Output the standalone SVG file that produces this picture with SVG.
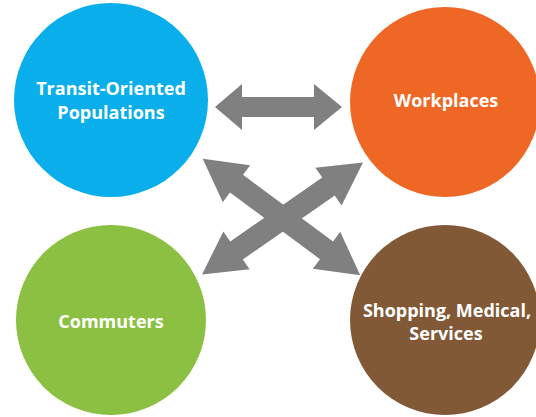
<svg xmlns="http://www.w3.org/2000/svg" width="536" height="417" viewBox="0 0 536 417">
<style>
.lbl{font-family:"Open Sans","Noto Sans","Liberation Sans",sans-serif;font-weight:700;font-size:18px;fill:#ffffff;text-anchor:middle}
.arr{fill:#808080}
</style>
<rect width="536" height="417" fill="#ffffff"/>
<g id="connectors">
<polygon class="arr" points="215,107 242,84 242,97 314,97 314,84 342,107 314,130 314,117 242,117 242,130"/>
<polygon class="arr" transform="translate(281.5,217) rotate(36.5)" points="-98,0 -56,-23 -56,-11 56,-11 56,-23 98,0 56,23 56,11 -56,11 -56,23"/>
<polygon class="arr" transform="translate(282.5,218.5) rotate(-34.8)" points="-98,0 -56,-23 -56,-11 56,-11 56,-23 98,0 56,23 56,11 -56,11 -56,23"/>
</g>
<g id="node-transit">
<circle cx="111" cy="100" r="97" fill="#09AEEB"/>
<text class="lbl" x="111" y="95">Transit-Oriented</text>
<text class="lbl" x="111" y="119">Populations</text>
</g>
<g id="node-workplaces">
<circle cx="445" cy="102" r="95" fill="#EF6724"/>
<text class="lbl" x="446" y="107">Workplaces</text>
</g>
<g id="node-commuters">
<circle cx="111" cy="320" r="95" fill="#8CC043"/>
<text class="lbl" x="111" y="328">Commuters</text>
</g>
<g id="node-shopping">
<circle cx="445" cy="320" r="95" fill="#825936"/>
<text class="lbl" x="447" y="317">Shopping, Medical,</text>
<text class="lbl" x="446" y="340">Services</text>
</g>
</svg>
